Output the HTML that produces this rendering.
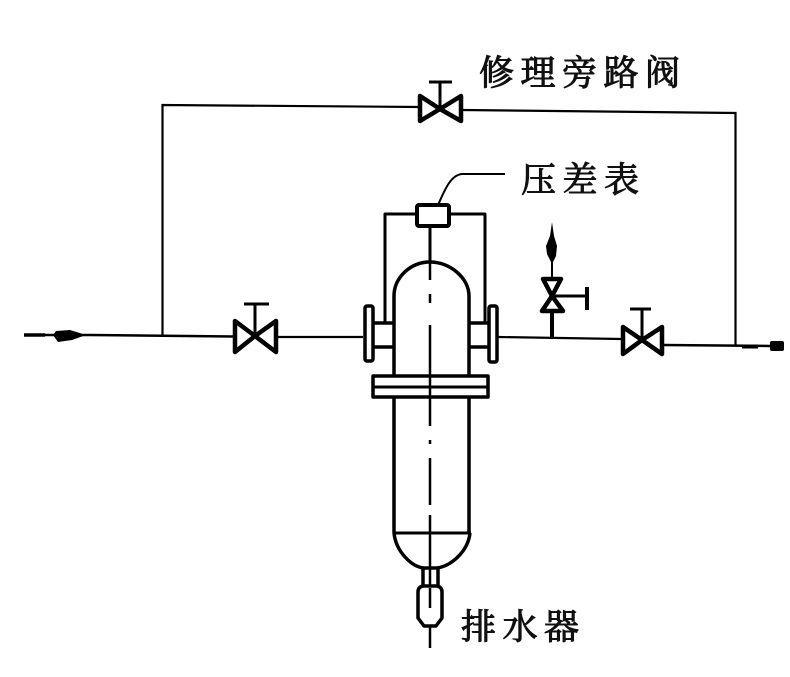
<!DOCTYPE html>
<html>
<head>
<meta charset="utf-8">
<style>
html,body{margin:0;padding:0;background:#fff;}
svg{display:block;}
text{font-family:"Liberation Serif","Noto Serif CJK SC",serif;font-size:35px;font-weight:400;fill:#111;stroke:#111;stroke-width:1px;letter-spacing:6.5px;}
</style>
</head>
<body>
<svg width="790" height="677" viewBox="0 0 790 677" xmlns="http://www.w3.org/2000/svg">
<rect width="790" height="677" fill="#fff"/>
<g fill="none" stroke="#000" stroke-width="2.2">
  <!-- bypass -->
  <path d="M162.500 335V105L420 107"/>
  <path d="M462 110L735.500 113V346"/>
  <!-- main pipe -->
  <path d="M24 335H90L233 336.500" stroke-width="2.500"/>
  <path d="M277 337H363"/>
  <path d="M498 337L621 339"/>
  <path d="M663 345L770 346" stroke-width="2.500"/>
  <path d="M742 346.500H758" stroke-width="4"/>
  <path d="M24 335H45" stroke-width="3.500"/>
</g>
<!-- flow arrows -->
<path d="M53 335L56 331L70 330L86 335L72 340L58 342Z" fill="#000"/>
<rect x="770" y="341" width="14" height="10" rx="2" fill="#000"/>
<!-- valves -->
<g fill="#fff" stroke="#000" stroke-width="4.500" stroke-linejoin="round">
  <path d="M235 321L255 336L235 352ZM276 321L255 336L276 352Z"/>
  <path d="M623 327L642 340L623 354ZM662 327L642 340L662 354Z"/>
  <path d="M420 96L440 109L420 121ZM461 96L440 109L461 121Z"/>
  <path d="M543 279L561 279L552 296ZM542 311L563 311L552 296Z"/>
</g>
<g fill="none" stroke="#000" stroke-width="3">
  <path d="M255 336V304M244 304H269"/>
  <path d="M642 340V309M630 309H651"/>
  <path d="M440 109V82M429 82H452" />
  <path d="M552 296H587" stroke-width="3"/>
  <path d="M587 287V310" stroke-width="4"/>
  <path d="M552 313V337" stroke-width="4"/>
  <path d="M552 260V278" stroke-width="2"/>
</g>
<path d="M552 222L554 236L557 246L556 256L553 262L551 262L547 254L546 246L550 236Z" fill="#000"/>
<!-- filter -->
<g fill="none" stroke="#000" stroke-width="3.500" stroke-linejoin="round">
  <rect x="365" y="306" width="8" height="55" rx="2"/>
  <rect x="489" y="306" width="8" height="56" rx="2"/>
  <path d="M373 323H394M373 347H394"/>
  <path d="M469 323H489M469 347H489"/>
  <path d="M394 375V296C394 278 410 262 430 262C450 262 469 278 469 296V375"/>
  <rect x="373" y="376" width="115" height="21"/>
  <path d="M373 387H488" stroke-width="3"/>
  <path d="M394 398V533M469 398V533"/>
  <path d="M393 533H471" stroke-width="3"/>
  <path d="M394 533C396 552 412 567 424 568H436C450 567 468 552 470 533"/>
  <path d="M423 568V587M438 568V587"/>
  <path d="M418 592Q418 587 423 586H437Q442 587 442 592V618L436 626H424L418 618Z"/>
  <!-- gauge -->
  <rect x="417" y="205" width="32" height="21" rx="2" stroke-width="4"/>
  <path d="M417 214H385V322" stroke-width="3"/>
  <path d="M449 214H485V322" stroke-width="3"/>
</g>
<g fill="none" stroke="#000">
  <path d="M430 227V262" stroke-width="3"/>
  <path d="M430 262V280M430 294V303M430 325V375M430 375V398" stroke-width="2.500"/>
  <path d="M430 398V426M430 440V444M430 458V505M430 515V568" stroke-width="2.500"/>
  <path d="M430 568V586M430 588V608" stroke-width="2.500"/>
  <path d="M430 626V648" stroke-width="2.500"/>
  <path d="M438 205C444 192 450 175 462 174H505" stroke-width="2"/>
</g>
<!-- labels -->
<text x="479" y="85">修理旁路阀</text>
<text x="521" y="192">压差表</text>
<text x="461" y="639">排水器</text>
</svg>
</body>
</html>
